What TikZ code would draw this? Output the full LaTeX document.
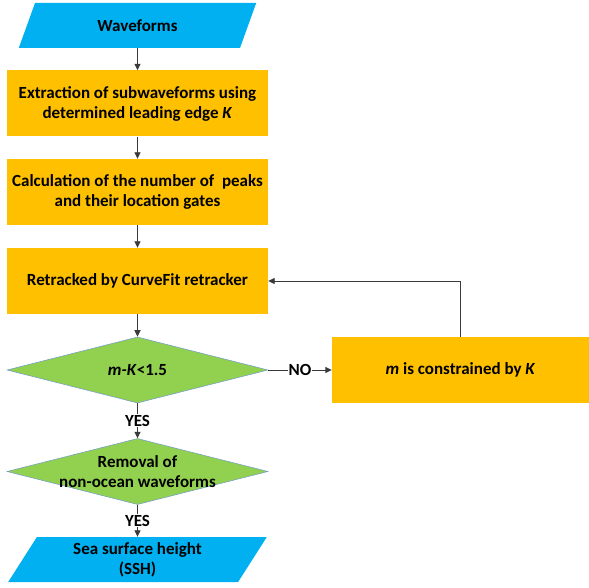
\documentclass[tikz,border=0pt]{standalone}
\usepackage{fontspec}
\setmainfont{Carlito}
\usetikzlibrary{shapes.geometric,arrows.meta}

\definecolor{ioblue}{HTML}{00B0F0}
\definecolor{stepyellow}{HTML}{FFC000}
\definecolor{testgreen}{HTML}{92D050}
\definecolor{testline}{HTML}{6F9BC8}
\definecolor{edgegrey}{HTML}{3A3A3A}

\newcommand{\chartfont}{\bfseries\fontsize{17}{20}\selectfont}

\tikzset{
    io/.style={trapezium, trapezium left angle=62, trapezium right angle=118,
        trapezium stretches=true, fill=ioblue, minimum width=239pt,
        minimum height=45pt, inner sep=0pt, align=center, font=\chartfont},
    process/.style={rectangle, fill=stepyellow, minimum width=261pt,
        minimum height=66pt, inner sep=0pt, align=center, font=\chartfont},
    decision/.style={diamond, fill=testgreen, draw=testline, line width=0.5pt,
        minimum width=261pt, minimum height=66pt, inner sep=0pt},
    flow/.style={draw=edgegrey, line width=0.9pt, -{Triangle[length=6.5pt,width=6pt]}},
    answer/.style={fill=white, inner sep=1pt, font=\chartfont}
}

\begin{document}
\begin{tikzpicture}[x=1pt,y=-1pt]
    \useasboundingbox (0,0) rectangle (589,588);

    % Defining the steps of the chart
    \node[io] (wave) at (137.5,25.5) {Waveforms};
    \node[process] (extract) at (137.5,103.5)
        {Extraction of subwaveforms using\\determined leading edge \textit{K}};
    \node[process] (peaks) at (137.5,192)
        {Calculation of the number of~ peaks\\and their location gates};
    \node[process] (retrack) at (137.5,281) {Retracked by CurveFit retracker};
    \node[decision, label={[font=\chartfont]center:\textit{m-K}<1.5}] (check) at (137.5,370) {};
    \node[process, minimum width=257pt] (constrain) at (460.5,370)
        {\textit{m} is constrained by \textit{K}};
    \node[decision, label={[font=\chartfont, align=center]center:Removal of\\non-ocean waveforms}]
        (removal) at (137.5,471.5) {};
    \node[io, minimum width=259pt] (ssh) at (137.5,559.5) {Sea surface height\\(SSH)};

    % Defining the links between the steps
    \draw[flow] (wave) -- (extract);
    \draw[flow] (extract) -- (peaks);
    \draw[flow] (peaks) -- (retrack);
    \draw[flow] (retrack) -- (check);
    \draw[flow] (check) -- node[answer] {YES} (removal);
    \draw[flow] (removal) -- node[answer] {YES} (ssh);
    \draw[flow] (check) -- node[answer] {NO} (constrain);

    % Feedback loop
    \draw[flow] (constrain.north) |- (retrack.east);

\end{tikzpicture}
\end{document}
